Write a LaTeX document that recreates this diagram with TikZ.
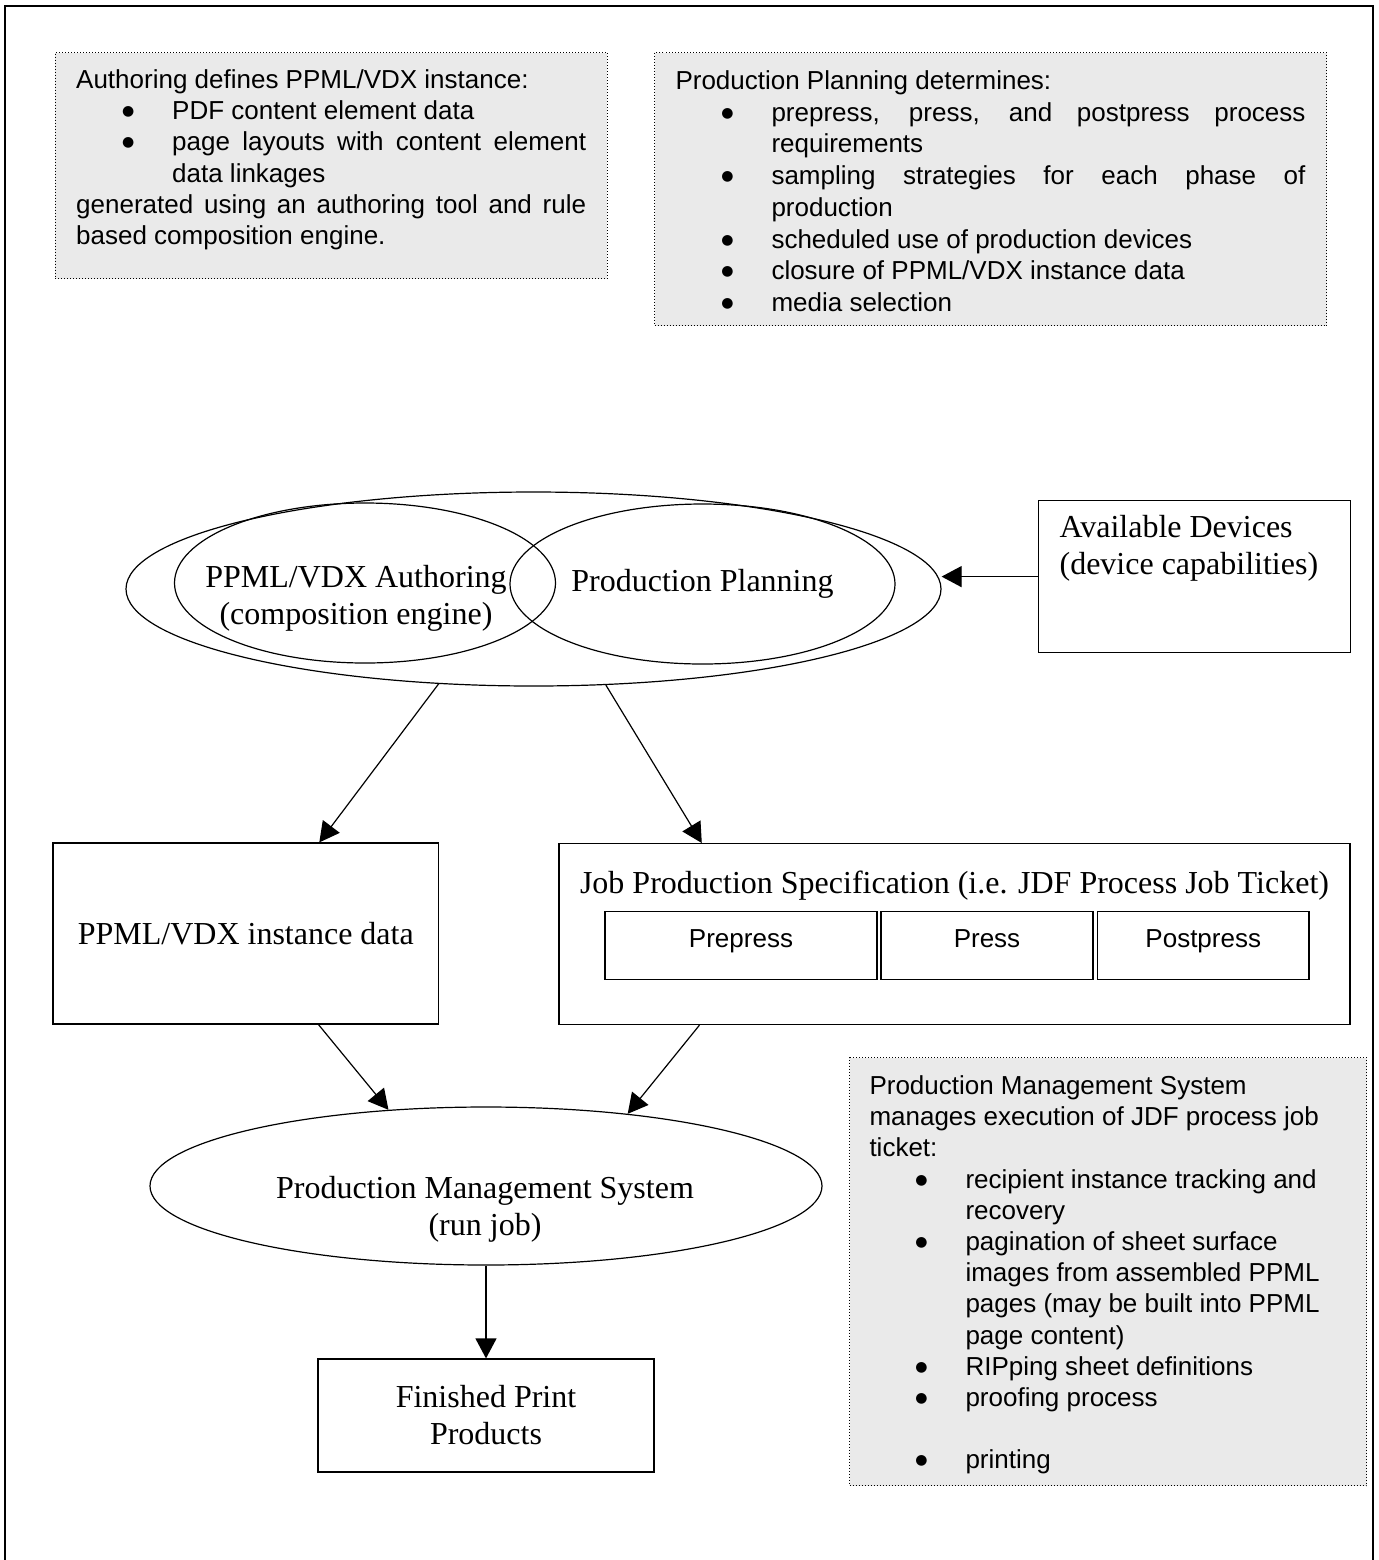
\documentclass[tikz,border=0pt]{standalone}
\usepackage{fontspec}
\setmainfont{Liberation Serif}
\setsansfont{Liberation Sans}
\newfontfamily\dotfont{DejaVu Sans}
\usepackage{tikz}
\usetikzlibrary{shapes}
\usetikzlibrary{arrows.meta}
\usetikzlibrary{calc}
\usepackage{xcolor}
\definecolor{notefill}{RGB}{234,234,234}

\newcommand{\boxfont}{\fontsize{16}{18.5}\selectfont}
\newcommand{\notefont}{\sffamily\fontsize{13}{15.6}\selectfont\hyphenpenalty=10000}
\newcommand{\bigdot}{\raisebox{2pt}{\dotfont\fontsize{7}{8}\selectfont ●}}
\newenvironment{dotlist}{%
  \begin{list}{\bigdot}{%
    \setlength{\leftmargin}{48pt}%
    \setlength{\labelwidth}{10pt}%
    \setlength{\labelsep}{18.9pt}%
    \setlength{\itemsep}{0pt}%
    \setlength{\parsep}{0pt}%
    \setlength{\topsep}{0pt}%
    \setlength{\partopsep}{0pt}}}%
  {\end{list}}

\begin{document}
\begin{tikzpicture}[x=0.5pt,y=-0.5pt,
  box/.style={draw,line width=0.6pt,inner sep=0pt,font=\boxfont},
  oval/.style={draw,ellipse,line width=0.6pt,inner sep=0pt,font=\boxfont},
  phase/.style={draw,line width=0.6pt,inner sep=0pt,font=\sffamily\fontsize{13}{15.6}\selectfont,text height=18pt,text depth=16pt,anchor=north},
  note/.style={draw,densely dotted,line width=0.5pt,fill=notefill,inner ysep=0pt,anchor=north west,font=\notefont},
  arr/.style={-{Triangle[length=10pt,width=10.5pt]},line width=0.6pt}]

\useasboundingbox (0,0) rectangle (1379,1560);
\draw[line width=1pt] (5,1570) -- (5,6) -- (1373,6) -- (1373,1570);

\node[note,text width=255pt,inner xsep=10.6pt,text height=18pt,text depth=95pt,align=justify] (authnote) at (54.5,52) {Authoring defines PPML/VDX instance:
\begin{dotlist}
\item PDF content element data
\item page layouts with content element\linebreak data linkages
\end{dotlist}
generated using an authoring tool and rule\linebreak based composition engine.};

\node[note,text width=315pt,inner xsep=10.5pt,text height=18.5pt,text depth=118pt,align=justify] (plannote) at (654,52) {\fontsize{13}{15.85}\selectfont Production Planning determines:
\begin{dotlist}
\item prepress, press, and postpress process\linebreak requirements
\item sampling strategies for each phase of\linebreak production
\item scheduled use of production devices
\item closure of PPML/VDX instance data
\item media selection
\end{dotlist}};

\node[oval,minimum width=407.5pt,minimum height=97pt] (outer) at (533.5,589) {};
\node[oval,minimum width=190.5pt,minimum height=80pt] (authoring) at (365,583) {};
\node[oval,minimum width=192.5pt,minimum height=80pt] (planning) at (702.5,584) {Production Planning};
\node[font=\boxfont,align=flush center] (authoringtext) at (356,598) {PPML/VDX Authoring\\(composition engine)};

\node[box,anchor=north west,text width=135pt,inner xsep=10.5pt,text height=18.5pt,text depth=57.5pt,align=flush left] (devices) at (1038,500) {Available Devices\\(device capabilities)};

\node[box,minimum width=192.8pt,minimum height=90.5pt] (instance) at (245.8,933.5) {PPML/VDX instance data};
\node[box,anchor=north,minimum width=395.5pt,text height=25pt,text depth=65.5pt] (jobspec) at (954.5,843) {Job Production Specification (i.e. JDF Process Job Ticket)};
\node[phase,minimum width=136pt] (prepress) at (741,911) {Prepress};
\node[phase,minimum width=106pt] (press) at (987,911) {Press};
\node[phase,minimum width=105.75pt] (postpress) at (1203.25,911) {Postpress};

\node[oval,minimum width=336pt,minimum height=79pt] (pms) at (486,1186) {};
\node[font=\boxfont,align=flush center] (pmstext) at (485,1209) {Production Management System\\(run job)};
\node[box,minimum width=168pt,minimum height=56.5pt,align=flush center] (finished) at (486,1415.5) {Finished Print\\Products};

\node[note,text width=238.5pt,inner xsep=10pt,text height=18.5pt,text depth=195.5pt,align=flush left] (pmsnote) at (849,1057) {Production Management System\\
manages execution of JDF process job\\
ticket:
\begin{dotlist}
\item recipient instance tracking and\newline recovery
\item pagination of sheet surface\newline images from assembled PPML\newline pages (may be built into PPML\newline page content)
\item RIPping sheet definitions
\item proofing process\par\vspace{15.6pt}
\item printing
\end{dotlist}};

\draw[arr] (devices.west) -- (devices.west -| outer.east);
\draw[arr] (outer.225) -- ($(instance.north west)!0.69!(instance.north east)$);
\draw[arr] (outer.307) -- ($(jobspec.north west)!0.181!(jobspec.north east)$);
\draw[arr] ($(instance.south west)!0.688!(instance.south east)$) -- (pms.142);
\draw[arr] ($(jobspec.south west)!0.178!(jobspec.south east)$) -- (pms.27);
\draw[arr] (pms.south) -- (finished.north);
\end{tikzpicture}
\end{document}
